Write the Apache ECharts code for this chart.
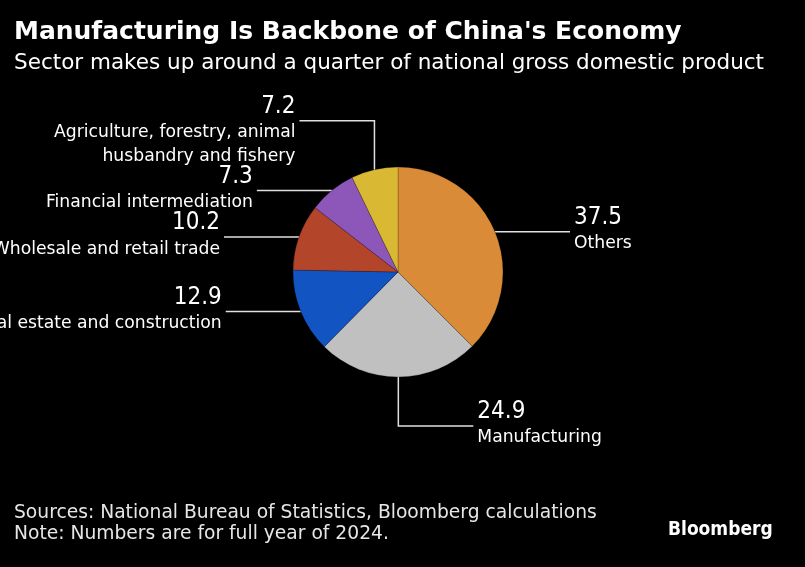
<!DOCTYPE html>
<html>
<head>
<meta charset="utf-8">
<script src="https://cdn.jsdelivr.net/npm/echarts@6/dist/echarts.min.js"></script>
<style>
html,body{margin:0;padding:0;background:#000;}
#c{width:805px;height:567px;}
</style>
</head>
<body>
<div id="c"></div>
<script>
var categories = ['Others', 'Manufacturing', 'Real estate and construction', 'Wholesale and retail trade', 'Financial intermediation', 'Agriculture, forestry, animal\nhusbandry and fishery'];
var values = [37.5, 24.9, 12.9, 10.2, 7.3, 7.2];
var colors = ['#da8b37', '#c0c0c0', '#1154c2', '#b3462a', '#8d57ba', '#d9b934'];

var FONT = "'DejaVu Sans', Verdana, sans-serif";
var FONT_NUM = "'DejaVu Sans Condensed', 'DejaVu Sans', sans-serif";
var CX = 398, CY = 272, R = 105;

var chart = echarts.init(document.getElementById('c'), null, {renderer: 'canvas'});

var data = categories.map(function (c, i) {
  return {name: c, value: values[i], itemStyle: {color: colors[i]}};
});

chart.setOption({
  backgroundColor: '#000',
  animation: false,
  title: [
    {text: "Manufacturing Is Backbone of China's Economy", left: 9, top: 15,
     textStyle: {color: '#fff', fontFamily: FONT, fontWeight: 'bold', fontSize: 25}},
    {text: 'Sector makes up around a quarter of national gross domestic product', left: 9, top: 47,
     textStyle: {color: '#fff', fontFamily: FONT, fontWeight: 'normal', fontSize: 21.5}},
    {text: 'Sources: National Bureau of Statistics, Bloomberg calculations\nNote: Numbers are for full year of 2024.', left: 9, top: 497,
     textStyle: {color: '#e6e6e6', fontFamily: FONT, fontWeight: 'normal', fontSize: 18.7, lineHeight: 21.5}},
    {text: 'Bloomberg', left: 663, top: 516,
     textStyle: {color: '#fff', fontFamily: FONT_NUM, fontWeight: 'bold', fontSize: 19}}
  ],
  series: [{
    type: 'pie',
    center: [CX, CY],
    radius: R,
    startAngle: 90,
    clockwise: true,
    avoidLabelOverlap: false,
    emphasis: {disabled: true},
    itemStyle: {borderColor: 'rgba(0,0,0,0.35)', borderWidth: 0.6},
    label: {
      show: true,
      position: 'outer',
      alignTo: 'none',
      overflow: 'none',
      formatter: function (p) { return '{v|' + p.value + '}\n{n|' + p.name.split('\n').join('}\n{n|') + '}'; },
      rich: {
        v: {fontSize: 24, lineHeight: 28, color: '#fff', fontFamily: FONT_NUM},
        n: {fontSize: 17.2, lineHeight: 24, color: '#fff', fontFamily: FONT}
      }
    },
    labelLine: {show: true, length: 5, length2: 5, smooth: false,
                lineStyle: {color: '#e0e0e0', width: 1.5}},
    labelLayout: function (p) {
      var pt = p.labelLinePoints[0];
      var dir = pt[0] < CX ? -1 : 1;
      var vy = 0;
      if (Math.abs(pt[0] - CX) < 30) { vy = (pt[1] < CY ? -1 : 1) * 49; }
      var ly = pt[1] + vy;
      var ex = pt[0] + dir * 75;
      return {
        x: ex + dir * 4,
        y: ly - 28,
        align: dir < 0 ? 'right' : 'left',
        verticalAlign: 'top',
        labelLinePoints: [[pt[0], pt[1]], [pt[0], ly], [ex, ly]]
      };
    },
    data: data
  }]
});
</script>
</body>
</html>
